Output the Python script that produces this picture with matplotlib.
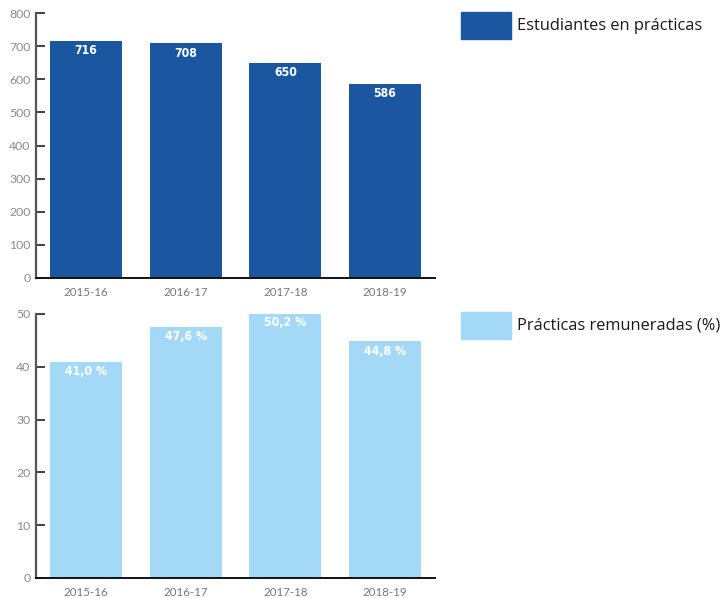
import matplotlib
matplotlib.use("Agg")
import matplotlib.pyplot as plt
from matplotlib.patches import Rectangle

years = ["2015-16", "2016-17", "2017-18", "2018-19"]
estudiantes = [716, 708, 650, 586]
remuneradas = [41.0, 47.6, 50.2, 44.8]
est_labels = ["716", "708", "650", "586"]
rem_labels = ["41,0 %", "47,6 %", "50,2 %", "44,8 %"]

dark = "#1b57a1"
light = "#a3d9f6"
W, H = 724, 598

fig = plt.figure(figsize=(7.24, 5.98), dpi=100)

def make_axes(top_px, bottom_px, values, labels, color, ymax, yticks, legend_text, leg_y):
    ax = fig.add_axes([36 / W, 1 - bottom_px / H, 399 / W, (bottom_px - top_px) / H])
    x = range(len(years))
    ax.bar(x, values, width=0.72, color=color, zorder=2)
    ax.set_xlim(-0.5, 3.5)
    ax.set_ylim(0, ymax)
    ax.set_yticks(yticks)
    ax.set_xticks(list(x))
    ax.set_xticklabels(years)
    for s in ["top", "right"]:
        ax.spines[s].set_visible(False)
    ax.spines["left"].set_color("#555555")
    ax.spines["left"].set_linewidth(1.6)
    ax.spines["bottom"].set_color("#111111")
    ax.spines["bottom"].set_linewidth(1.4)
    ax.tick_params(axis="y", direction="in", length=6.5, width=1.3, color="#333333",
                   labelsize=8.8, labelcolor="#8a8a8a", pad=4)
    ax.tick_params(axis="x", length=0, labelsize=8.3, labelcolor="#777777", pad=6.5)
    for lab in ax.get_xticklabels() + ax.get_yticklabels():
        lab.set_family("Lato")
    offset = ymax * 0.038
    for xi, v, t in zip(x, values, labels):
        ax.text(xi, v - offset, t, ha="center", va="center", color="white",
                fontsize=8.8, fontweight="bold", family="DejaVu Sans", fontstretch="condensed")
    fig.patches.append(Rectangle((461 / W, 1 - (leg_y + 27) / H), 50 / W, 27 / H,
                                 transform=fig.transFigure, color=color, figure=fig))
    fig.text(517 / W, 1 - (leg_y + 14) / H, legend_text, ha="left", va="center",
             fontsize=11.8, color="#1a1a1a", family="Open Sans")
    return ax

make_axes(13, 278, estudiantes, est_labels, dark, 800, range(0, 801, 100),
          "Estudiantes en prácticas", 12)
make_axes(314, 578, remuneradas, rem_labels, light, 50, range(0, 51, 10),
          "Prácticas remuneradas (%)", 312)

fig.savefig("out.png", dpi=100)
